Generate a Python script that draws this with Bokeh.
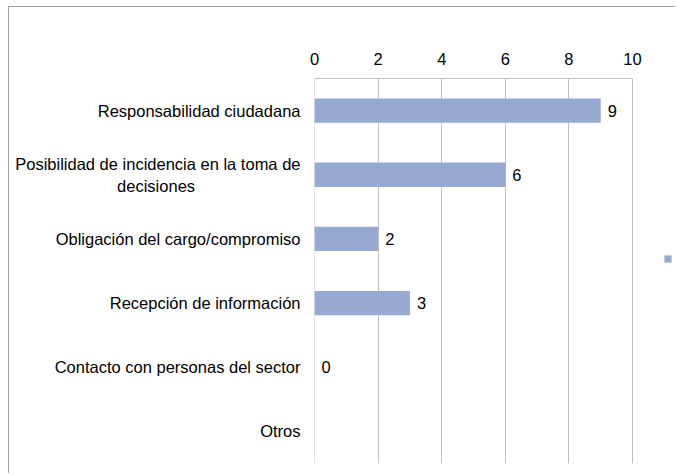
from bokeh.plotting import figure
from bokeh.models import ColumnDataSource, Range1d, FactorRange, SingleIntervalTicker, Legend, LegendItem
from bokeh.core.properties import value
from bokeh.embed import file_html
from bokeh.resources import INLINE

NBSP = "\u00a0"
categories = [
    "Responsabilidad ciudadana",
    "Posibilidad de incidencia en la toma de\ndecisiones" + NBSP * 23,
    "Obligación del cargo/compromiso",
    "Recepción de información",
    "Contacto con personas del sector",
    "Otros",
]
values = [9, 6, 2, 3, 0, 0]
value_labels = ["9", "6", "2", "3", "0", ""]
axis_min, axis_max = 0, 10

FONT = "Liberation Sans"
FS = "16.5px"
BAR = "#95A9D1"
GRID = "#BFBFBF"

W, H = 667, 467
LEFT, TOP, BOTTOM = 305, 71, 11
# the plotting frame continues past the axis end (room for the legend key)
x_end = axis_max * (W - LEFT) / 318

p = figure(
    width=W, height=H,
    x_range=Range1d(axis_min - 0.001, x_end),
    y_range=FactorRange(factors=list(reversed(categories)), range_padding=0),
    x_axis_location="above",
    output_backend="svg", toolbar_location=None,
    min_border_left=LEFT, min_border_right=0, min_border_top=TOP, min_border_bottom=BOTTOM,
)
p.styles = {"border-top": "1px solid #A0A0A0", "border-left": "1px solid #A0A0A0",
            "margin-left": "8px", "margin-top": "6px"}

src = ColumnDataSource(dict(cat=categories, val=values, lab=value_labels))

bars = p.hbar(y="cat", right="val", left=0, height=0.38, source=src,
              fill_color=BAR, line_color=None)

p.text(x="val", y="cat", text="lab", source=src, x_offset=7,
       text_align="left", text_baseline="middle",
       text_font=value(FONT), text_font_size=FS, text_color="#000000")

yax = p.yaxis[0]
yax.axis_line_color = None
yax.major_tick_out = 0
yax.major_tick_in = 0
yax.minor_tick_out = 0
yax.minor_tick_in = 0
yax.major_label_standoff = 14
yax.major_label_text_font = FONT
yax.major_label_text_font_size = FS
yax.major_label_text_color = "#000000"
yax.major_label_text_line_height = 1.22

ax = p.xaxis[0]
ax.ticker = SingleIntervalTicker(interval=2)
ax.bounds = (axis_min, axis_max)
ax.axis_line_color = GRID
ax.major_tick_out = 0
ax.major_tick_in = 0
ax.minor_tick_out = 0
ax.minor_tick_in = 0
ax.major_label_standoff = 14
ax.major_label_text_font = FONT
ax.major_label_text_font_size = FS
ax.major_label_text_color = "#000000"

p.xgrid.grid_line_color = GRID
p.xgrid.grid_line_width = 1
p.ygrid.visible = False
p.outline_line_color = None

legend = Legend(items=[LegendItem(label=value(" "), renderers=[bars])],
                location=(349, 200), glyph_width=9, glyph_height=9,
                label_text_font_size="1px", label_width=0, label_height=0,
                label_standoff=0, padding=0, margin=0, spacing=0,
                border_line_color=None, background_fill_alpha=0)
p.add_layout(legend, "center")

open("out.html", "w").write(file_html(p, INLINE))
